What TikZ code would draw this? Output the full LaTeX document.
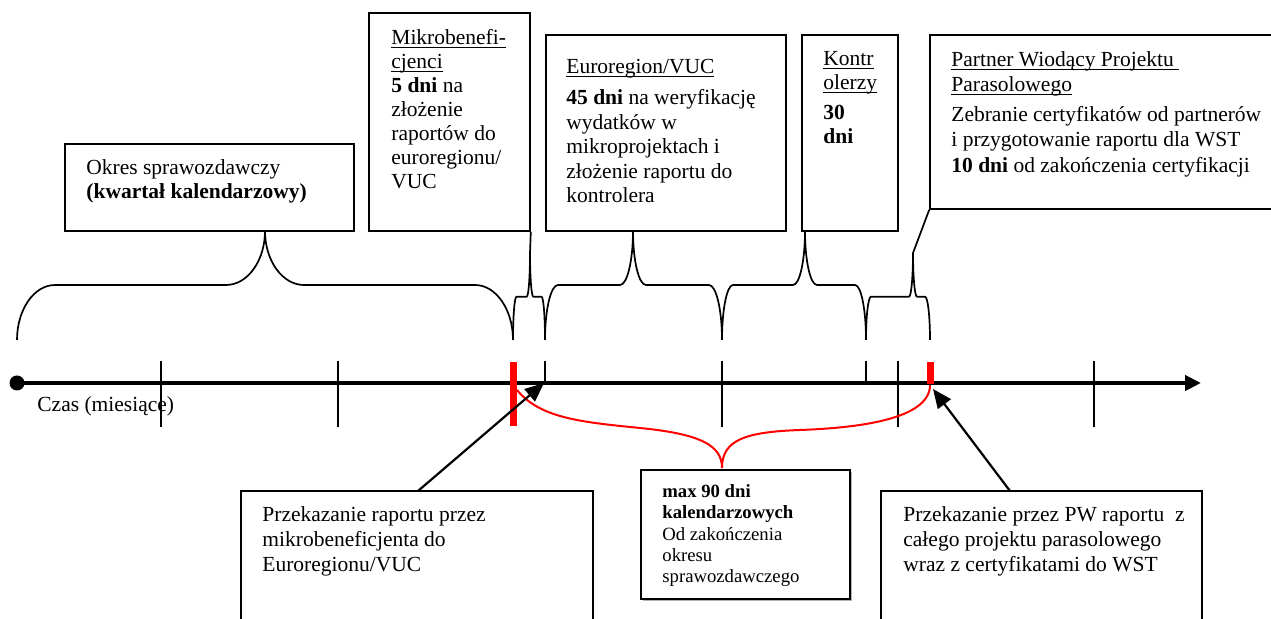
\documentclass[tikz,border=0pt]{standalone}
\usepackage{fontspec}
\setmainfont{Liberation Serif}
\usetikzlibrary{arrows.meta,fit,calc}
\lineskiplimit=-\maxdimen
\newcommand\myul[1]{\setbox0\hbox{#1}\rlap{\rule[-1.6pt]{\wd0}{0.5pt}}\box0}
% xL xR xm yh ytip ypeak a c
\newcommand\tbrace[8]{%
  \draw[bracel] (#1,#5) .. controls (#1,{#5-0.552*(#5-#4)}) and ({#1+0.448*#7},#4) .. ({#1+#7},#4)
    -- ({#3-#8},#4) .. controls ({#3-0.448*#8},#4) and (#3,{#6+0.552*(#4-#6)}) .. (#3,#6)
    .. controls (#3,{#6+0.552*(#4-#6)}) and ({#3+0.448*#8},#4) .. ({#3+#8},#4)
    -- ({#2-#7},#4) .. controls ({#2-0.448*#7},#4) and (#2,{#5-0.552*(#5-#4)}) .. (#2,#5);}
\begin{document}
\begin{tikzpicture}[x=0.5pt,y=-0.5pt,
  boxs/.style={draw, line width=0.8pt, inner sep=0pt},
  txt/.style={anchor=base west, inner sep=0pt, font=\fontsize{10.75pt}{12.35pt}\selectfont},
  bracel/.style={line width=0.85pt, line join=round},
  conn/.style={line width=0.85pt},
  tick/.style={line width=0.75pt},
  arr/.style={line width=1.1pt, -{Triangle[length=9.5pt,width=8pt]}},
  redbar/.style={fill=red, draw=none}]
\useasboundingbox (0,0) rectangle (1271,619);
\fill[white] (0,0) rectangle (1271,619);
\clip (0,0) rectangle (1271,619);

% ---------- top boxes ----------
\node[boxs, fit={(65,144)(354,231)}] (okres) {};
\node[boxs, fit={(369,13.3)(530,231)}] (mikro) {};
\node[boxs, fit={(546,35)(786,231)}] (euro) {};
\node[boxs, fit={(802,35)(898,231)}] (kontr) {};
\node[boxs, fit={(930,35)(1300,209)}] (pw) {};

\node[txt, font=\fontsize{10.75pt}{12pt}\selectfont] (okresT) at (86,175)
  {\vtop{\hbox{Okres sprawozdawczy}\hbox{\bfseries (kwartał kalendarzowy)}}};
\node[txt, font=\fontsize{10.75pt}{12pt}\selectfont] (mikroT) at (391,44.5)
  {\vtop{\hbox{\myul{Mikrobenefi-}}\hbox{\myul{cjenci}}\hbox{\textbf{5 dni} na}\hbox{złożenie}\hbox{raportów do}\hbox{euroregionu/}\hbox{VUC}}};
\node[txt, font=\fontsize{10.75pt}{12.25pt}\selectfont] (euroT) at (566,74)
  {\vtop{\hbox{\myul{Euroregion/VUC}}\vskip3.15pt\hbox{\textbf{45 dni} na weryfikację}\hbox{wydatków w}\hbox{mikroprojektach i}\hbox{złożenie raportu do}\hbox{kontrolera}}};
\node[txt, font=\fontsize{10.75pt}{11.75pt}\selectfont] (kontrT) at (823,66)
  {\vtop{\hbox{\myul{Kontr}}\hbox{\myul{olerzy}}\vskip3.5pt\hbox{\bfseries 30}\hbox{\bfseries dni}}};
\node[txt, font=\fontsize{10.75pt}{12.25pt}\selectfont] (pwT) at (951,67)
  {\vtop{\hbox{\myul{Partner Wiodący Projektu\ }}\hbox{\myul{Parasolowego}}\vskip3pt\hbox{Zebranie certyfikatów od partnerów}\hbox{i przygotowanie raportu dla WST}\vskip1pt\hbox{\textbf{10 dni} od zakończenia certyfikacji}}};

% ---------- braces ----------
\tbrace{17}{513}{265}{285}{340}{231}{38}{39}
\tbrace{513}{545}{530}{296.7}{340}{253}{3.5}{3.3}
\tbrace{545}{722}{633}{285}{340}{231}{13}{13}
\tbrace{722}{866}{805}{285}{340}{231}{11}{12}
\tbrace{866}{930}{913}{296.7}{340}{253}{5}{4}
\coordinate (mpk) at (530,253);
\coordinate (pwpk) at (913,253);
\draw[conn] (mikro.south east) -- (mpk);
\draw[conn] (pw.south west) -- (pwpk);

% ---------- timeline ----------
\node[circle, fill=black, inner sep=0pt, minimum size=7.5pt] (dot) at (17,383) {};
\coordinate (tlend) at (1201,383);
\draw[line width=2.3pt, -{Triangle[length=8pt,width=7.5pt]}] (dot.center) -- (tlend);
\foreach \x in {161,338,722,898,1094} \draw[tick] (\x,361) -- (\x,427);
\foreach \x in {545,866} \draw[tick] (\x,361) -- (\x,383);
\node[txt] (czas) at (37,411.7) {Czas (miesiące)};

\fill[redbar] (509.5,362) rectangle (517,426);
\fill[redbar] (926.5,362) rectangle (933.5,384);
\coordinate (rb1) at (517,390);
\coordinate (rb2) at (930,385);
\coordinate (rpk) at (722,468);
\draw[red, line width=1pt] (rb1) .. controls (540,418) and (580,422) .. (640,428)
  .. controls (700,434) and (722,445) .. (rpk)
  .. controls (722,440) and (745,432) .. (800,430)
  .. controls (855,428) and (930,420) .. (rb2);

% ---------- bottom boxes ----------
\node[boxs, fit={(241,491)(593,640)}] (b1) {};
\fill[black!30] (643,472) rectangle (852,601);
\node[boxs, fill=white, line width=1pt, fit={(641,470)(850,599)}] (maxb) {};
\node[boxs, fit={(881,491)(1202,640)}] (b3) {};

\node[txt, font=\fontsize{10.75pt}{12.5pt}\selectfont] (b1T) at (262,521.7)
  {\vtop{\hbox{Przekazanie raportu przez}\hbox{mikrobeneficjenta do}\hbox{Euroregionu/VUC}}};
\node[txt, font=\fontsize{9.35pt}{10.6pt}\selectfont] (maxT) at (662,497.7)
  {\vtop{\hbox{\bfseries max 90 dni}\hbox{\bfseries kalendarzowych}\hbox{Od zakończenia}\hbox{okresu}\hbox{sprawozdawczego}}};
\node[txt, font=\fontsize{10.75pt}{12.5pt}\selectfont] (b3T) at (903,521.7)
  {\vtop{\hbox{Przekazanie przez PW raportu\ \ z}\hbox{całego projektu parasolowego}\hbox{wraz z certyfikatami do WST}}};

% ---------- arrows ----------
\coordinate (a1s) at (418,491);
\coordinate (a1e) at (544,383);
\coordinate (a2s) at (1010,491);
\coordinate (a2e) at (933,389);
\draw[arr] (a1s) -- (a1e);
\draw[arr] (a2s) -- (a2e);
\end{tikzpicture}
\end{document}
